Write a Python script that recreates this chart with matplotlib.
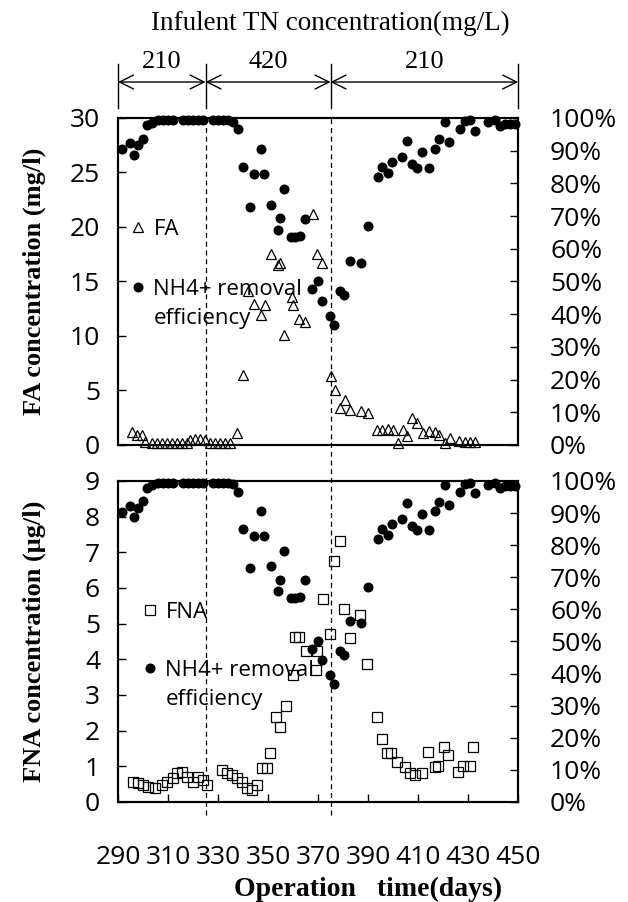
import matplotlib.pyplot as plt
from matplotlib.ticker import FuncFormatter

# NH4+ removal efficiency (%) against operation day, same series in both panels
eff_day = [291.5, 294.8, 296.4, 298.1, 300.1, 301.7, 303.5,
           306.1, 308.1, 310.1, 312.1, 316.1, 318.1, 320.1, 322.1, 324.1,
           328.1, 330.1, 332.1, 334.1, 336.1, 338.1,
           340.1, 342.8, 344.4, 347.1, 348.4, 351.1, 353.9, 354.8, 356.4,
           359.1, 360.8, 362.8, 364.8, 367.5, 370.1, 371.5, 374.8, 376.5,
           378.8, 380.5, 382.8, 387.1, 389.9, 393.9, 395.5, 397.9, 399.7,
           403.7, 405.7, 407.7, 409.7, 411.7, 414.5, 416.8, 418.5, 420.8,
           422.5, 426.8, 428.8, 430.8, 432.8, 438.1, 440.8, 442.8, 444.8,
           446.8, 448.8]
eff_pct = [90.4, 92.3, 88.7, 91.7, 93.6, 97.9, 98.6,
           99.4, 99.4, 99.4, 99.4, 99.4, 99.4, 99.4, 99.4, 99.4,
           99.4, 99.4, 99.4, 99.4, 98.9, 96.6,
           84.9, 72.9, 82.8, 90.5, 82.8, 73.4, 65.7, 69.3, 78.3,
           63.5, 63.5, 64.0, 69.0, 47.7, 50.2, 44.1, 39.5, 36.7,
           47.1, 45.9, 56.4, 55.6, 67.0, 82.0, 84.9, 83.1, 86.5,
           88.2, 93.1, 85.9, 84.8, 89.7, 84.8, 90.5, 93.5, 98.7,
           92.6, 96.6, 99.0, 99.4, 96.1, 98.7, 99.4, 97.7, 98.3,
           98.3, 98.3]

# free ammonia (mg/l)
fa_day = [295.7, 297.5, 299.7, 300.8, 303.5, 305.5, 307.5, 309.5, 311.5,
          313.5, 315.5, 317.5, 318.8, 320.8, 322.8, 324.8, 326.8, 328.8,
          330.8, 332.8, 334.8, 337.5, 340.1, 342.1, 344.4, 347.1, 348.8,
          351.2, 354.1, 354.8, 356.4, 359.5, 360.1, 362.5, 364.8, 367.9,
          369.5, 371.5, 375.1, 376.8, 378.8, 380.8, 382.8, 387.1, 390.1,
          393.5, 395.5, 398.1, 399.9, 402.1, 404.1, 405.7, 407.7, 409.7,
          411.9, 414.5, 416.8, 418.5, 420.8, 422.8, 426.5, 428.8, 430.8,
          432.8]
fa_val = [1.22, 0.92, 0.92, 0.3, 0.15, 0.15, 0.15, 0.15, 0.15,
          0.15, 0.15, 0.15, 0.45, 0.55, 0.55, 0.45, 0.15, 0.15,
          0.15, 0.15, 0.15, 1.07, 6.4, 14.1, 12.9, 11.9, 12.8,
          17.5, 16.5, 16.7, 10.1, 13.6, 12.8, 11.6, 11.3, 21.2,
          17.5, 16.7, 6.3, 5.0, 3.4, 4.1, 3.2, 3.1, 2.9,
          1.4, 1.4, 1.5, 1.4, 0.15, 1.4, 0.8, 2.45, 2.0,
          1.1, 1.3, 1.2, 0.9, 0.15, 0.6, 0.4, 0.3, 0.3,
          0.3]

# free nitrous acid (ug/l)
fna_day = [296.1, 298.1, 300.1, 302.1, 304.8, 307.5, 309.5, 312.1, 313.5,
           315.5, 317.5, 320.1, 322.1, 324.1, 325.5, 331.5, 333.5, 335.5,
           337.5, 339.5, 341.5, 343.5, 345.5, 347.5, 349.5, 350.8, 353.1,
           354.8, 357.1, 359.8, 360.8, 362.5, 365.1, 369.0, 369.5, 372.1,
           374.8, 376.5, 378.8, 380.5, 382.8, 386.8, 389.5, 393.5, 395.5,
           397.5, 399.3, 401.7, 404.8, 406.8, 408.8, 411.5, 414.1, 416.8,
           418.1, 420.5, 422.1, 426.1, 428.1, 430.8, 432.1]
fna_val = [0.57, 0.52, 0.48, 0.43, 0.38, 0.48, 0.57, 0.66, 0.80,
           0.85, 0.71, 0.57, 0.71, 0.62, 0.48, 0.90, 0.80, 0.76,
           0.66, 0.57, 0.38, 0.34, 0.48, 0.96, 0.96, 1.36, 2.39,
           2.09, 2.70, 3.55, 4.63, 4.63, 4.24, 3.70, 4.24, 5.68,
           4.72, 6.76, 7.32, 5.42, 4.60, 5.24, 3.86, 2.39, 1.76,
           1.36, 1.36, 1.13, 0.99, 0.80, 0.76, 0.80, 1.41, 0.99,
           1.02, 1.55, 1.32, 0.85, 1.00, 1.00, 1.55]

# influent TN phases
tn_bounds = [290, 325, 375, 450]
tn_labels = ['210', '420', '210']

plt.rcParams['font.family'] = ['Open Sans', 'DejaVu Sans']
SERIF = 'Liberation Serif'
TICK_SIZE = 19

fig = plt.figure(figsize=(6.28, 9.02), dpi=100)
ax1 = fig.add_axes([0.188, 0.5067, 0.637, 0.3625])
ax2 = fig.add_axes([0.188, 0.1109, 0.637, 0.3559])


def draw_panel(ax, day, val, marker, ms, label, ymax, ystep, ylabel, leg_anchor, spacing):
    ax.plot(day, val, ls='none', marker=marker, ms=ms, mfc='none', mec='k',
            mew=0.9, label=label, clip_on=False)
    ax.set_xlim(290, 450)
    ax.set_xticks(range(290, 451, 20))
    ax.set_ylim(0, ymax)
    ax.set_yticks([i * ystep for i in range(int(ymax / ystep) + 1)])
    ax.tick_params(axis='y', direction='in', length=6, width=1, labelsize=TICK_SIZE, pad=13)
    ax.set_ylabel(ylabel, fontfamily=SERIF, fontweight='bold', fontsize=19)
    ax.yaxis.set_label_coords(-0.18, 0.5)

    axr = ax.twinx()
    axr.plot(eff_day, eff_pct, ls='none', marker='o', ms=6.2, color='k',
             label='NH4+ removal\nefficiency', clip_on=False)
    axr.set_ylim(0, 100)
    axr.set_yticks(range(0, 101, 10))
    axr.yaxis.set_major_formatter(FuncFormatter(lambda v, p: f'{v:.0f}%'))
    axr.tick_params(axis='y', direction='in', length=6, width=1, labelsize=TICK_SIZE, pad=23)

    for a in (ax, axr):
        for s in a.spines.values():
            s.set_linewidth(1.5)

    h1, = ax.get_lines()
    h2, = axr.get_lines()
    leg = axr.legend(handles=[h1, h2], loc='upper left', bbox_to_anchor=leg_anchor,
                     frameon=False, fontsize=16, handlelength=0.7, handletextpad=0.35,
                     labelspacing=spacing, borderpad=0, borderaxespad=0)
    for t in leg.get_texts():
        t.set_linespacing(1.55)
    # put the dot next to the first line of the two-line label
    dot = leg.legend_handles[1]
    dot.set_ydata(dot.get_ydata() + 12.5)
    return axr


ax1r = draw_panel(ax1, fa_day, fa_val, '^', 7.5, 'FA', 30, 5,
                  'FA concentration (mg/l)', (0.03, 0.692), 1.75)
ax2r = draw_panel(ax2, fna_day, fna_val, 's', 6.5, 'FNA', 9, 1,
                  'FNA concentration (\u03bcg/l)', (0.06, 0.623), 1.65)

ax1.tick_params(axis='x', length=0, labelbottom=False)
ax2.tick_params(axis='x', direction='in', length=6, width=1, labelsize=TICK_SIZE, pad=31)
ax2.set_xlabel('Operation   time(days)', fontfamily=SERIF, fontweight='bold', fontsize=20)
ax2.xaxis.set_label_coords(0.625, -0.232)

# dashed phase boundaries running through both panels
top1 = ax1.get_position().y1
pos2 = ax2.get_position()
ytop = (top1 - pos2.y0) / pos2.height
for b in tn_bounds[1:-1]:
    ax2.axvline(b, ymin=-0.04, ymax=ytop, color='k', lw=0.9, ls=(0, (4, 3)),
                clip_on=False, zorder=1)

# influent TN header with dimension arrows
tr = ax1.get_xaxis_transform()
for b in tn_bounds:
    ax1.plot([b, b], [1.03, 1.165], transform=tr, color='k', lw=1, clip_on=False)
for a, b, lab in zip(tn_bounds[:-1], tn_bounds[1:], tn_labels):
    ax1.annotate('', xy=(b, 1.11), xytext=(a, 1.11), xycoords=tr, textcoords=tr,
                 arrowprops=dict(arrowstyle='<->,head_length=1.0,head_width=0.5',
                                 lw=1, color='k', shrinkA=0, shrinkB=0),
                 annotation_clip=False)
    ax1.text((a + b) / 2, 1.17, lab, transform=tr, ha='center', va='center',
             fontfamily=SERIF, fontsize=19)
ax1.text(0.53, 1.29, 'Infulent TN concentration(mg/L)', transform=ax1.transAxes,
         ha='center', va='center', fontfamily=SERIF, fontsize=19.5)

fig.savefig('out.png', dpi=100)
